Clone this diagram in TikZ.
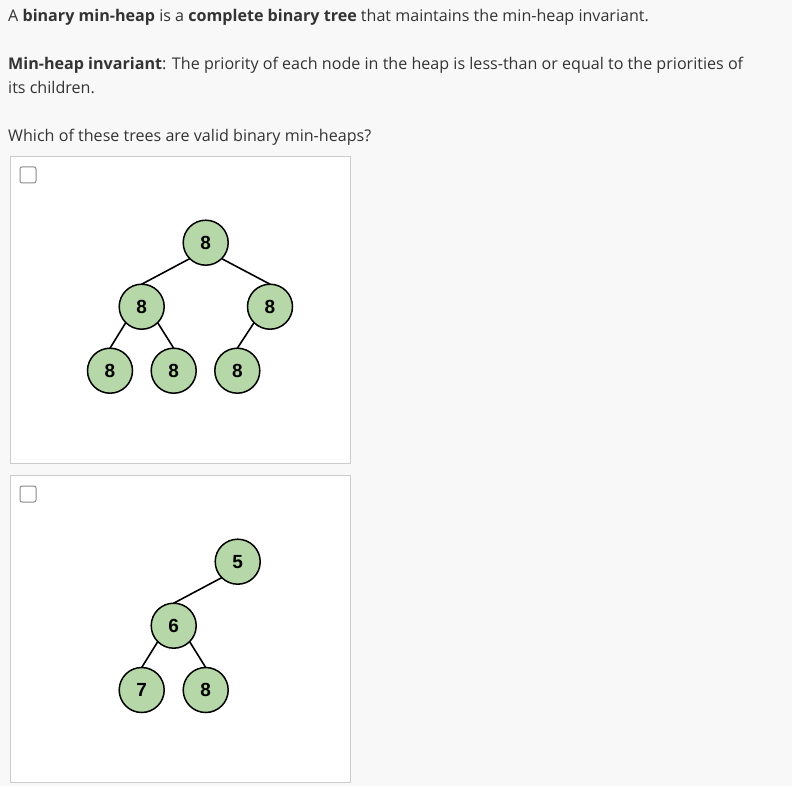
\documentclass[tikz,border=0pt]{standalone}
\usepackage{fontspec}
\setmainfont{Open Sans}
\newfontfamily\keyfont{Liberation Sans}
\usepackage{tikz}
\definecolor{pagebg}{HTML}{F8F8F8}
\definecolor{proseink}{HTML}{333333}
\definecolor{cardline}{HTML}{CCCCCC}
\definecolor{tickline}{HTML}{8A8A8A}
\definecolor{heapgreen}{HTML}{B6D7A8}
\tikzset{
    heapnode/.style = {draw, circle, fill=heapgreen, line width=1.5pt,
                      minimum size=45pt, inner sep=0pt, outer sep=0pt,
                      font=\keyfont\bfseries\fontsize{19}{19}\selectfont},
    heapedge/.style = {line width=1.6pt},
    cardbox/.style  = {draw=cardline, fill=white, line width=1pt},
    tickbox/.style  = {draw=tickline, fill=white, rounded corners=2pt, line width=1pt,
                      minimum size=16pt, inner sep=0pt},
    prose/.style    = {anchor=base west, inner sep=0pt, text=proseink,
                      font=\fontsize{16.1}{20}\selectfont},
  }

\begin{document}
\begin{tikzpicture}[x=1pt, y=-1pt]
      % page
      \fill[pagebg] (0,0) rectangle (792,786);
      \useasboundingbox (0,0) rectangle (792,786);

      % question text
      \node[prose] (l1) at (8,21.7) {A \textbf{binary min-heap} is a \textbf{complete binary tree} that maintains the min-heap invariant.};
      \node[prose] (l2) at (8,70) {\textbf{Min-heap invariant}: The priority of each node in the heap is less-than or equal to the priorities of};
      \node[prose] (l3) at (8,93.3) {its children.};
      \node[prose] (l4) at (8,141.7) {Which of these trees are valid binary min-heaps?};

      % answer cards
      \draw[cardbox] (10,156.5) rectangle (350,463);
      \draw[cardbox] (10,475.5) rectangle (350,782);
      \node[tickbox] (c1) at (28,175) {};
      \node[tickbox] (c2) at (28,494) {};

      % first tree
      \node[heapnode] (a1) at (205.7,242.7) {8};
      \node[heapnode] (a2) at (141.7,306.7) {8};
      \node[heapnode] (a3) at (270,306.7) {8};
      \node[heapnode] (a4) at (110,370.7) {8};
      \node[heapnode] (a5) at (173.7,370.7) {8};
      \node[heapnode] (a6) at (237.3,370.7) {8};
      \foreach \u/\s/\v in {a1/south west/a2, a1/south east/a3, a2/south west/a4,
                            a2/south east/a5, a3/south west/a6} {
        \draw[heapedge] (\u.\s) -- (\v.north);
      }

      % second tree
      \node[heapnode] (b1) at (237.7,561.7) {5};
      \node[heapnode] (b2) at (173.7,625.7) {6};
      \node[heapnode] (b3) at (141.7,690) {7};
      \node[heapnode] (b4) at (205.7,690) {8};
      \foreach \u/\s/\v in {b1/south west/b2, b2/south west/b3, b2/south east/b4} {
        \draw[heapedge] (\u.\s) -- (\v.north);
      }
\end{tikzpicture}
\end{document}
